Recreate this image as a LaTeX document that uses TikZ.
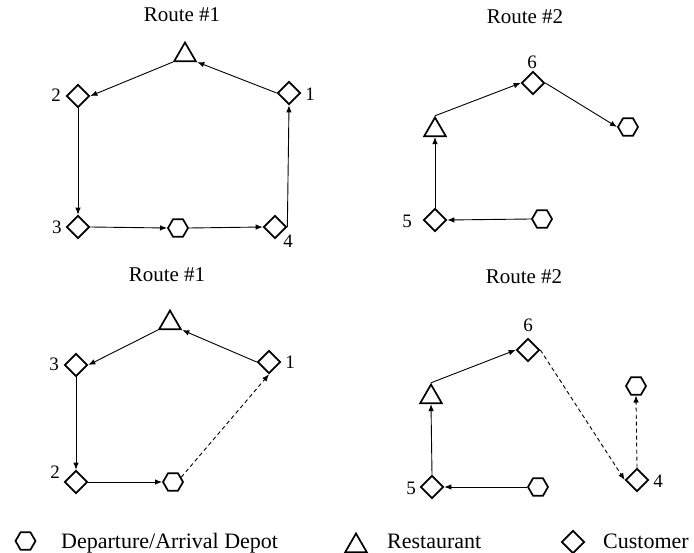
\documentclass[tikz,border=0pt]{standalone}
\usepackage{fontspec}
\setmainfont{Liberation Serif}
\usetikzlibrary{shapes.geometric,arrows.meta}
\begin{document}
\begin{tikzpicture}[x=1pt,y=-1pt,
  cust/.style={diamond,draw,line width=1.7pt,minimum width=23pt,minimum height=23pt,inner sep=0pt},
  depot/.style={regular polygon,regular polygon sides=6,draw,line width=1.7pt,minimum size=20pt,inner sep=0pt},
  rest/.style={regular polygon,regular polygon sides=3,draw,line width=1.7pt,minimum size=25pt,inner sep=0pt},
  title/.style={font=\fontsize{21}{24}\selectfont,inner sep=0pt},
  num/.style={font=\fontsize{19}{22}\selectfont,inner sep=0pt},
  legtext/.style={font=\fontsize{22}{25}\selectfont,inner sep=0pt,anchor=base west},
  link/.style={line width=0.9pt,-{Latex[length=7pt,width=5.5pt]}},
  dlink/.style={link,dash pattern=on 4pt off 3pt}]
\useasboundingbox (0,0) rectangle (694,553);

% ---------- Panel 1: Route #1 (top) ----------
\node[title] (t1) at (182,15) {Route \#1};
\node[rest] (r1) at (185,55) {};
\node[cust] (a2) at (78,96) {};
\node[cust] (a1) at (289,93) {};
\node[cust] (a3) at (78,227) {};
\node[depot] (p1) at (178,228) {};
\node[cust] (a4) at (275,227) {};
\node[num] (la2) at (56,95) {2};
\node[num] (la1) at (310,94) {1};
\node[num] (la3) at (57,227) {3};
\node[num] (la4) at (288,241) {4};
\draw[link] (r1.corner 2) -- (a2.east);
\draw[link] (a1.west) -- (r1.corner 3);
\draw[link] (a2.south) -- (a3.north);
\draw[link] (a3.east) -- (p1.west);
\draw[link] (p1.east) -- (a4.west);
\draw[link] (a4.east) -- (a1.south);

% ---------- Panel 2: Route #2 (top) ----------
\node[title] (t2) at (525,17) {Route \#2};
\node[rest] (r2) at (435,130) {};
\node[cust] (b6) at (533,83) {};
\node[depot] (p2) at (628,127) {};
\node[cust] (b5) at (435,220) {};
\node[depot] (p3) at (542,219) {};
\node[num] (lb6) at (532,62) {6};
\node[num] (lb5) at (407,221) {5};
\draw[link] (r2.corner 1) -- (b6.west);
\draw[link] (b6.east) -- (p2.west);
\draw[link] (b5.north) -- (r2.south);
\draw[link] (p3.west) -- (b5.east);

% ---------- Panel 3: Route #1 (bottom) ----------
\node[title] (t3) at (167,275) {Route \#1};
\node[rest] (r3) at (170,323) {};
\node[cust] (c3) at (76,365) {};
\node[cust] (c1) at (269,362) {};
\node[cust] (c2) at (76,482) {};
\node[depot] (p4) at (173,482) {};
\node[num] (lc3) at (54,364) {3};
\node[num] (lc1) at (290,362) {1};
\node[num] (lc2) at (55,472) {2};
\draw[link] (r3.corner 2) -- (c3.east);
\draw[link] (c1.west) -- (r3.corner 3);
\draw[link] (c3.south) -- (c2.north);
\draw[link] (c2.east) -- (p4.west);
\draw[dlink] (p4.30) -- (c1.south);

% ---------- Panel 4: Route #2 (bottom) ----------
\node[title] (t4) at (524,277) {Route \#2};
\node[rest] (r4) at (431,397) {};
\node[cust] (e6) at (528,350) {};
\node[depot] (p5) at (636,386) {};
\node[cust] (e4) at (637,480) {};
\node[cust] (e5) at (432,487) {};
\node[depot] (p6) at (538,487) {};
\node[num] (le6) at (528,325) {6};
\node[num] (le4) at (658,481) {4};
\node[num] (le5) at (411,488) {5};
\draw[link] (r4.corner 1) -- (e6.west);
\draw[dlink] (e6.east) -- (e4.west);
\draw[dlink] (e4.north) -- (p5.south);
\draw[link] (e5.north) -- (r4.south);
\draw[link] (p6.west) -- (e5.east);

% ---------- Legend ----------
\node[depot] (g1) at (25.5,541) {};
\node[legtext] (g1t) at (61,548) {Departure/Arrival Depot};
\node[rest] (g2) at (356,546) {};
\node[legtext] (g2t) at (387,548) {Restaurant};
\node[cust] (g3) at (573,542) {};
\node[legtext] (g3t) at (603,548) {Customer};
\end{tikzpicture}
\end{document}
